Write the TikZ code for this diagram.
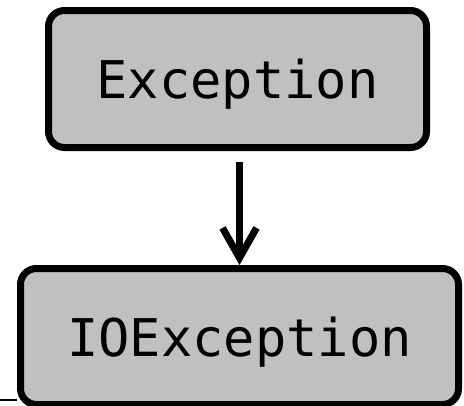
\documentclass[tikz,border=0pt]{standalone}
\usepackage{fontspec}
\setmonofont{DejaVu Sans Mono}
\usetikzlibrary{arrows.meta}
\definecolor{boxfill}{RGB}{192,192,192}
\tikzset{
  classbox/.style={draw=black, fill=boxfill, line width=7pt, rounded corners=16pt,
    inner sep=0pt, text height=39pt, text depth=0pt,
    font=\ttfamily\fontsize{52}{60}\selectfont},
  inherit/.style={line width=7pt, -{Straight Barb[length=30pt,width=34pt]}}
}
\begin{document}
\begin{tikzpicture}[x=1pt,y=-1pt]
  \useasboundingbox (0,0) rectangle (464,405);
  \node[classbox, minimum width=378pt, minimum height=137pt] (exc) at (237.5,79) {Exception};
  \node[classbox, minimum width=438pt, minimum height=136pt] (ioexc) at (239.5,336.5) {IOException};
  \draw[inherit, shorten <=11pt] (exc.south -| ioexc.north) -- (ioexc.north);
  \coordinate (rule) at (0,400);
  \draw[line width=2.5pt] (rule) -- (rule -| ioexc.west);
\end{tikzpicture}
\end{document}
